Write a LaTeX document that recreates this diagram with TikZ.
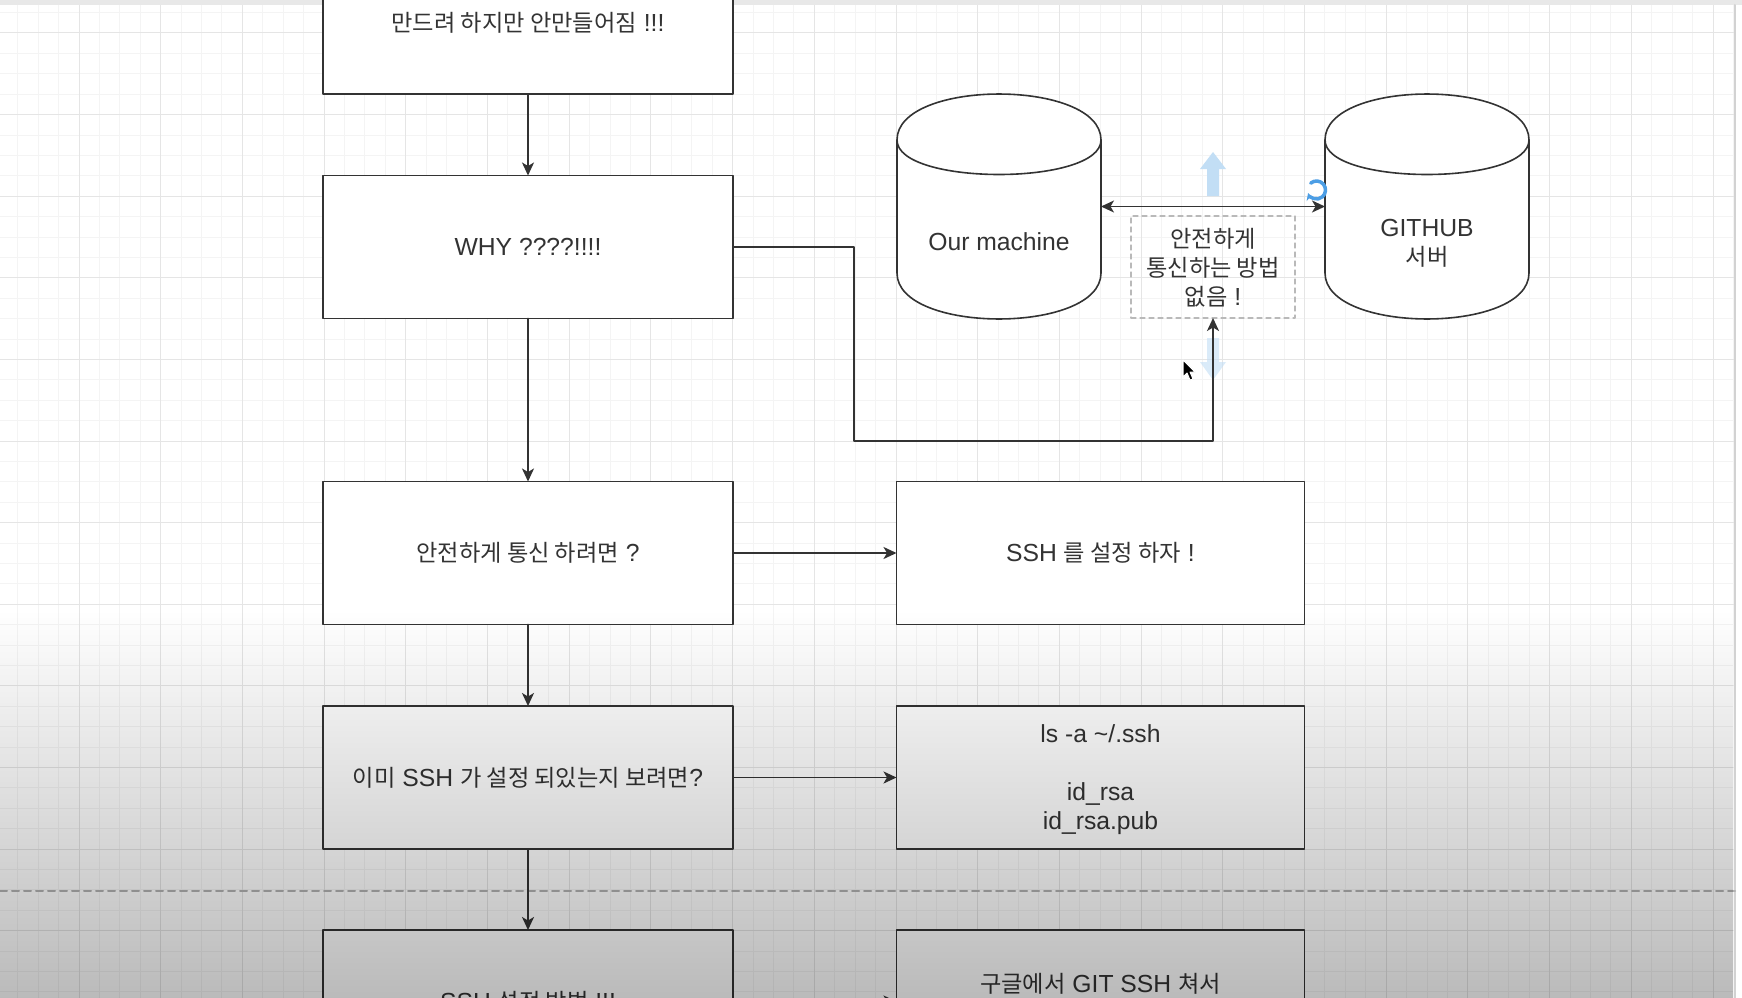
\documentclass[tikz,border=0pt]{standalone}
\usepackage{fontspec}
\setmainfont{Liberation Sans}
\newfontfamily\kr[Scale=0.94]{Noto Sans CJK KR}
\usepackage{tikz}
\usetikzlibrary{arrows,arrows.meta,positioning,fadings}
\definecolor{lnclr}{rgb}{0.2,0.2,0.2}
\definecolor{txclr}{rgb}{0.2,0.2,0.2}
\definecolor{grdminor}{rgb}{0.955,0.955,0.955}
\definecolor{grdmajor}{rgb}{0.9,0.9,0.9}
\definecolor{uiblue}{rgb}{0.76,0.87,0.96}
\definecolor{uirot}{rgb}{0.3,0.62,0.9}
\tikzfading[name=vidfade,top color=transparent!100,bottom color=transparent!73]

\begin{document}
\begin{tikzpicture}[line cap=round,line join=round,x=1pt,y=-1pt,
    >={Stealth[length=13pt,width=12pt,inset=3.5pt]},
    every node/.style={font=\fontsize{24.7}{29}\selectfont,text=txclr},
    flowbox/.style={draw=lnclr,line width=1.6pt,fill=white,minimum width=410pt,
      minimum height=143pt,align=center,inner sep=0pt,outer sep=0pt},
    cylbody/.style={minimum width=204pt,minimum height=225pt,inner sep=0pt,outer sep=0pt},
    cylline/.style={draw=lnclr,line width=1.6pt,fill=white},
    notebox/.style={draw=gray!55,line width=1.2pt,dash pattern=on 5pt off 4pt,
      minimum width=164pt,minimum height=102pt,align=center,inner sep=0pt,outer sep=0pt},
    flow/.style={draw=lnclr,line width=1.7pt}]
\useasboundingbox (0,0) rectangle (1742,998);
\clip (0,0) rectangle (1742,998);
\fill[white] (0,0) rectangle (1742,998);
% grid
\foreach \i in {0,...,85}
  \draw[grdminor,line width=1pt] ({-2.7+20.425*\i},0) -- ({-2.7+20.425*\i},998);
\foreach \j in {0,...,49}
  \draw[grdminor,line width=1pt] (0,{-7.8+20.4*\j}) -- (1735,{-7.8+20.4*\j});
\foreach \i in {0,...,21}
  \draw[grdmajor,line width=1pt] ({-2.7+81.7*\i},0) -- ({-2.7+81.7*\i},998);
\foreach \j in {0,...,12}
  \draw[grdmajor,line width=1pt] (0,{-48.6+81.6*\j}) -- (1735,{-48.6+81.6*\j});
\fill[gray!18] (0,0) rectangle (1742,5);
\draw[gray!35,line width=2pt] (1735,5) -- (1735,998);
% page break
\draw[gray!60,line width=2pt,dash pattern=on 7pt off 5pt] (0,890.5) -- (1735,890.5);

% left column
\node[flowbox] (mk) at (528,22.5) {{\kr 만드려 하지만 안만들어짐} !!!};
\node[flowbox,below=81.5pt of mk] (why) {WHY ????!!!!};
\node[flowbox,below=163pt of why] (safe) {{\kr 안전하게 통신 하려면} ?};
\node[flowbox,below=81.5pt of safe] (chk) {{\kr 이미} SSH {\kr 가 설정 되있는지 보려면}?};
\node[flowbox,below=81pt of chk] (how) {SSH {\kr 설정 방법} !!!};
% right column
\node[flowbox,minimum width=408pt,right=163.5pt of safe] (setssh) {SSH {\kr 를 설정 하자} !};
\node[flowbox,minimum width=408pt,text depth=0pt,right=163.5pt of chk] (lsa) {ls -a \textasciitilde/.ssh\\ \strut\\ id\_rsa\\ id\_rsa.pub};
\node[flowbox,minimum width=408pt,right=163.5pt of how] (goog) {{\kr 구글에서} GIT SSH {\kr 쳐서}\\ \strut};

% machines
\node[cylbody] (ourm) at (999,206.5) {};
\node[cylbody] (gh) at (1427,206.5) {};
\foreach \xa in {897,1325}{
  \draw[cylline] (\xa,140) .. controls (\xa,78.7) and (\xa+204,78.7) .. (\xa+204,140)
    -- (\xa+204,273) .. controls (\xa+204,334.3) and (\xa,334.3) .. (\xa,273) -- cycle;
  \draw[cylline,fill=none] (\xa,140) .. controls (\xa,186) and (\xa+204,186) .. (\xa+204,140);
}
\node (ourmtxt) at (999,242) {Our machine};
\node[align=center] (ghtxt) at (1427,243) {GITHUB\\{\kr 서버}};
\node[notebox,text depth=0pt] (nosafe) at (1213,267) {{\kr 안전하게}\\{\kr 통신하는 방법}\\{\kr 없음} !};

% editor handles
\fill[uiblue] (1207,196) -- (1207,169) -- (1200,169) -- (1213,152) -- (1226,169)
  -- (1219,169) -- (1219,196) -- cycle;
\fill[uiblue,opacity=0.6] (1207,338) -- (1207,362) -- (1200,362) -- (1213,380) -- (1226,362)
  -- (1219,362) -- (1219,338) -- cycle;
\draw[uirot,line width=3.5pt,-{Stealth[length=7pt,width=8pt]}] (1316.5,190) ++(230:9) arc (230:520:9);

% connectors
\draw[flow,->] (mk) -- (why);
\draw[flow,->] (why) -- (safe);
\draw[flow,->] (safe) -- (chk);
\draw[flow,->] (chk) -- (how);
\draw[flow,->] (safe) -- (setssh);
\draw[flow,->] (chk) -- (lsa);
\draw[flow,->] (how) -- (goog);
\draw[flow,->] (why.east) -| (854,441) -| (nosafe.south);
\draw[flow,<->] (ourm.east) -- (gh.west);

% cursor
\fill[black,draw=white,line width=1pt] (1183,360) -- (1183,377) -- (1187,373) -- (1190,380)
  -- (1193,379) -- (1190,372) -- (1195,372) -- cycle;

\fill[black,path fading=vidfade] (0,610) rectangle (1742,998);
\end{tikzpicture}
\end{document}
